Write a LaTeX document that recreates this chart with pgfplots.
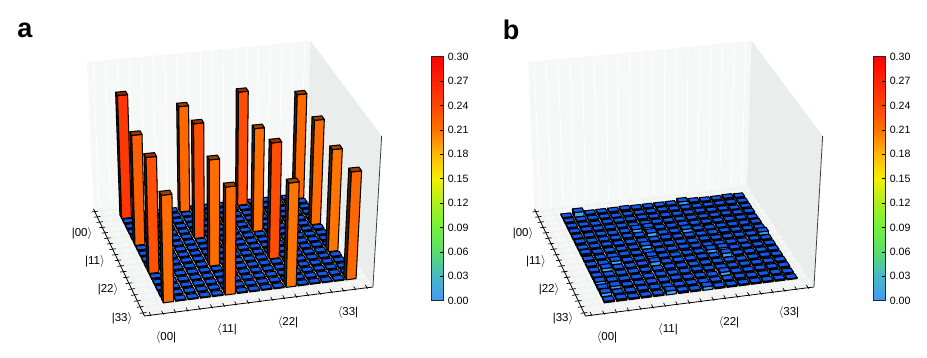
\documentclass[border=0pt]{standalone}
\usepackage{pgfplots}
\usepackage{pgfplotstable}
\usepackage{fontspec}
\setmainfont{Liberation Sans}
\pgfplotsset{compat=1.18}
\pgfplotsset{colormap={tomo}{rgb255(0)=(70,150,245) rgb255(1)=(70,185,200) rgb255(2)=(90,220,110) rgb255(3)=(115,240,60) rgb255(4)=(170,240,30) rgb255(5)=(245,240,0) rgb255(6)=(255,185,10) rgb255(7)=(255,115,0) rgb255(8)=(255,70,5) rgb255(9)=(255,35,5) rgb255(10)=(255,0,0)}}
\pgfplotstableread{
.252 .002 .002 .002 .002 .218 .002 .002 .002 .002 .235 .002 .002 .002 .002 .218
.002 .002 .002 .002 .002 .002 .002 .002 .002 .002 .002 .002 .002 .002 .002 .002
.002 .002 .002 .002 .002 .002 .002 .002 .002 .002 .002 .002 .002 .002 .002 .002
.002 .002 .002 .002 .002 .002 .002 .002 .002 .002 .002 .002 .002 .002 .002 .002
.002 .002 .002 .002 .002 .002 .002 .002 .002 .002 .002 .002 .002 .002 .002 .002
.224 .002 .002 .002 .002 .234 .002 .002 .002 .002 .212 .002 .002 .002 .002 .216
.002 .002 .002 .002 .002 .002 .002 .002 .002 .002 .002 .002 .002 .002 .002 .002
.002 .002 .002 .002 .002 .002 .002 .002 .002 .002 .002 .002 .002 .002 .002 .002
.002 .002 .002 .002 .002 .002 .002 .002 .002 .002 .002 .002 .002 .002 .002 .002
.002 .002 .002 .002 .002 .002 .002 .002 .002 .002 .002 .002 .002 .002 .002 .002
.233 .002 .002 .002 .002 .215 .002 .002 .002 .002 .235 .002 .002 .002 .002 .209
.002 .002 .002 .002 .002 .002 .002 .002 .002 .002 .002 .002 .002 .002 .002 .002
.002 .002 .002 .002 .002 .002 .002 .002 .002 .002 .002 .002 .002 .002 .002 .002
.002 .002 .002 .002 .002 .002 .002 .002 .002 .002 .002 .002 .002 .002 .002 .002
.002 .002 .002 .002 .002 .002 .002 .002 .002 .002 .002 .002 .002 .002 .002 .002
.214 .002 .002 .002 .002 .216 .002 .002 .002 .002 .210 .002 .002 .002 .002 .218
}\tA
\pgfplotstableread{
.002 .010 .003 .003 .003 .004 .003 .003 .003 .003 .007 .004 .003 .003 .004 .003
.003 .003 .003 .003 .002 .003 .003 .003 .004 .003 .003 .003 .003 .003 .003 .003
.003 .003 .002 .003 .003 .003 .004 .003 .003 .003 .003 .004 .003 .003 .002 .003
.003 .004 .003 .003 .003 .002 .003 .003 .003 .003 .003 .003 .003 .004 .003 .003
.003 .003 .003 .002 .003 .007 .008 .003 .003 .004 .003 .003 .003 .003 .003 .002
.004 .003 .003 .003 .004 .003 .008 .003 .003 .007 .003 .002 .003 .003 .003 .003
.003 .003 .004 .003 .003 .003 .003 .004 .003 .003 .003 .003 .004 .003 .003 .003
.005 .003 .003 .003 .003 .007 .003 .003 .003 .002 .004 .003 .003 .003 .003 .007
.003 .003 .003 .004 .003 .003 .003 .003 .004 .003 .003 .003 .003 .002 .004 .003
.003 .003 .007 .003 .003 .008 .003 .002 .003 .003 .007 .008 .003 .003 .003 .003
.003 .007 .003 .003 .004 .008 .003 .003 .003 .004 .003 .008 .003 .003 .003 .003
.004 .003 .003 .003 .003 .003 .004 .003 .003 .003 .003 .003 .002 .003 .004 .003
.006 .004 .003 .003 .002 .003 .003 .003 .004 .003 .003 .003 .003 .003 .003 .003
.004 .006 .003 .003 .003 .003 .004 .003 .003 .002 .007 .003 .003 .003 .003 .003
.007 .003 .003 .004 .003 .003 .003 .003 .003 .003 .003 .004 .003 .003 .003 .002
.003 .004 .003 .003 .003 .008 .004 .003 .007 .003 .003 .003 .003 .003 .003 .002
}\tB
% perspective of the plot box: floor fractions (x,y), height fraction z -> page position
\newcommand\pj[4]{%
  \pgfmathsetmacro\pW{0.02687*#1-0.0779*#2-0.05*#3+1}%
  \pgfmathsetmacro\pU{(220.72*#1+39.74*#2-10.85*#3+93.5)/\pW+\off}%
  \pgfmathsetmacro\pV{(-19.03*#1+82.38*#2-150.1*#3+209)/\pW}%
  \edef#4{(\pU,\pV)}}
\newcommand\face[5]{\edef\tmp{\noexpand\addplot[forget plot,mark=none,fill={#1},edge] coordinates {#2#3#4#5} --cycle;}\tmp}
\pgfplotsset{edge/.style={draw=black,line width=1.05pt,line join=round}}
\def\RR#1{\ifcase#1 70\or 70\or 90\or 115\or 170\or 245\or 255\or 255\or 255\or 255\or 255\fi}
\def\GG#1{\ifcase#1 150\or 185\or 220\or 240\or 240\or 240\or 185\or 115\or 70\or 35\or 0\fi}
\def\BB#1{\ifcase#1 245\or 200\or 110\or 60\or 30\or 0\or 10\or 0\or 5\or 5\or 0\fi}
\newcommand\onebar[3]{% row col value
  \pgfmathsetmacro\xa{(1.94+1.021*#2)/19}\pgfmathsetmacro\xb{(2.78+1.021*#2)/19}%
  \pgfmathsetmacro\ya{(1.62+#1)/19}\pgfmathsetmacro\yb{(2.32+#1)/19}%
  \pgfmathsetmacro\zz{#3/0.3}%
  \pgfmathtruncatemacro\sg{min(9,floor(#3/0.03))}%
  \pgfmathtruncatemacro\sh{\sg+1}%
  \pgfmathsetmacro\tw{#3/0.03-\sg}%
  \pgfmathsetmacro\cR{(\RR\sg*(1-\tw)+\RR\sh*\tw)/255}%
  \pgfmathsetmacro\cG{(\GG\sg*(1-\tw)+\GG\sh*\tw)/255}%
  \pgfmathsetmacro\cB{(\BB\sg*(1-\tw)+\BB\sh*\tw)/255}%
  \pj\xa\yb{0}\pAa \pj\xb\yb{0}\pBa \pj\xa\ya{0}\pCa
  \pj\xa\yb\zz\pAb \pj\xb\yb\zz\pBb \pj\xa\ya\zz\pCb \pj\xb\ya\zz\pDb
  \pgfmathsetmacro\lR{\cR*0.28}\pgfmathsetmacro\lG{\cG*0.28}\pgfmathsetmacro\lB{\cB*0.28}%
  \pgfmathparse{#3<0.1?1:0}%
  \ifdim\pgfmathresult pt>0.5pt
    \def\tR{0.075}\def\tG{0.35}\def\tB{0.93}%
  \else
    \pgfmathsetmacro\tR{\cR*0.6}\pgfmathsetmacro\tG{\cG*0.6}\pgfmathsetmacro\tB{\cB*0.6}%
  \fi
  \pgfmathparse{#3<0.006?1:0}%
  \ifdim\pgfmathresult pt>0.5pt
    \def\cR{0.03}\def\cG{0.06}\def\cB{0.12}%
  \fi
  \face{rgb,1:red,\lR;green,\lG;blue,\lB}\pCa\pAa\pAb\pCb
  \face{rgb,1:red,\cR;green,\cG;blue,\cB}\pAa\pBa\pBb\pAb
  \face{rgb,1:red,\tR;green,\tG;blue,\tB}\pCb\pDb\pBb\pAb
}
\definecolor{wallb}{RGB}{246,248,248}
\definecolor{wallr}{RGB}{233,237,236}
\definecolor{floorc}{RGB}{245,246,246}
\definecolor{gridc}{RGB}{253,254,254}
\definecolor{gridf}{RGB}{234,237,237}
\newcommand\panelbox{%
  % walls and floor
  \pj{0}{0}{0}\qa \pj{1}{0}{0}\qb \pj{1}{1}{0}\qc \pj{0}{1}{0}\qd
  \pj{0}{0}{1}\qe \pj{1}{0}{1}\qf \pj{1}{1}{1}\qg
  \edef\tmp{\noexpand\addplot[forget plot,mark=none,fill=wallb,draw=none] coordinates {\qa\qb\qf\qe} --cycle;}\tmp
  \edef\tmp{\noexpand\addplot[forget plot,mark=none,fill=wallr,draw=none] coordinates {\qb\qc\qg\qf} --cycle;}\tmp
  \edef\tmp{\noexpand\addplot[forget plot,mark=none,fill=floorc,draw=none] coordinates {\qa\qb\qc\qd} --cycle;}\tmp
  \foreach \k in {-1,...,17}{%
    \pgfmathsetmacro\fk{(\k+1.5)/19}%
    \pj\fk{0}{0}\pa \pj\fk{0}{1}\pb \pj\fk{1}{0}\pc
    \edef\tmp{\noexpand\addplot[forget plot,mark=none,draw=gridc,line width=1pt] coordinates {\pa\pb};}\tmp
    \edef\tmp{\noexpand\addplot[forget plot,mark=none,draw=gridf,line width=.5pt] coordinates {\pa\pc};}\tmp
    \pj{0}\fk{0}\pd \pj{1}\fk{0}\pe
    \edef\tmp{\noexpand\addplot[forget plot,mark=none,draw=gridf,line width=.5pt] coordinates {\pd\pe};}\tmp
  }%
  % frame edges
  \edef\tmp{\noexpand\addplot[forget plot,mark=none,draw=black,line width=.8pt] coordinates {\qa\qd\qc};}\tmp
  \edef\tmp{\noexpand\addplot[forget plot,mark=none,draw=black!75,line width=.8pt] coordinates {\qc\qg};}\tmp
  % ticks
  \foreach \k in {-1,...,17}{%
    \pgfmathsetmacro\fk{(\k+1.5)/19}%
    \pj\fk{1.008}{0}\pa \pj\fk{0.975}{0}\pb
    \edef\tmp{\noexpand\addplot[forget plot,mark=none,draw=black,line width=.7pt] coordinates {\pa\pb};}\tmp
    \pj{-0.014}\fk{0}\pa \pj{0.014}\fk{0}\pb
    \edef\tmp{\noexpand\addplot[forget plot,mark=none,draw=black,line width=.7pt] coordinates {\pa\pb};}\tmp
  }%
}
\newcommand\bars[1]{%
  \foreach \rr in {0,...,15}{%
    \foreach \cc in {15,14,...,0}{%
      \pgfplotstablegetelem{\rr}{[index]\cc}\of#1%
      \let\vv\pgfplotsretval
      \onebar\rr\cc\vv
    }%
  }%
}
\newcommand\panellabels{%
  \foreach \lab/\px/\py in {|00/82/234,|11/95/262,|22/108/290,|33/122/319}{%
    \pgfmathsetmacro\qx{\px+\off}%
    \edef\tmp{\noexpand\node[font=\noexpand\fontsize{11.5}{12}\noexpand\selectfont,inner sep=0pt] at (axis cs:\qx,\py) {\lab$\noexpand\rangle$};}\tmp
  }%
  \foreach \lab/\px/\py in {00/166/338,11/227/329,22/288/322,33/348/313}{%
    \pgfmathsetmacro\qx{\px+\off}%
    \edef\tmp{\noexpand\node[font=\noexpand\fontsize{11.5}{12}\noexpand\selectfont,inner sep=0pt] at (axis cs:\qx,\py) {$\noexpand\langle$\lab|};}\tmp
  }%
}
\pgfplotsset{panel/.style={
  scale only axis,width=464pt,height=358pt,anchor=south west,
  ymin=0,ymax=358,y dir=reverse,hide axis,clip=true},
  cbar/.style={
    scale only axis,anchor=south west,width=12pt,height=244pt,
    xmin=0,xmax=1,ymin=0,ymax=0.3,xtick=\empty,
    ytick={0,0.03,0.06,0.09,0.12,0.15,0.18,0.21,0.24,0.27,0.30},
    yticklabel pos=right,ytick pos=right,tick align=inside,
    major tick length=3pt,
    tick style={black,line width=.6pt},
    axis line style={line width=.9pt,draw=black!85},
    scaled y ticks=false,axis on top,
    colormap name=tomo,point meta min=0,point meta max=0.3,
    yticklabel style={font=\fontsize{10.6}{11}\selectfont,xshift=1pt,
      /pgf/number format/fixed,/pgf/number format/fixed zerofill,
      /pgf/number format/precision=2,/pgf/number format/assume math mode=true},
  }}
\begin{document}
\begin{tikzpicture}[x=1pt,y=1pt]
\useasboundingbox (0pt,0pt) rectangle (927pt,358pt);
\begin{axis}[panel,at={(0pt,0pt)},xmin=0,xmax=464]
  \def\off{0}
  \panelbox
  \bars\tA
  \panellabels
  \node[font=\fontsize{27}{28}\selectfont\bfseries,inner sep=0pt] at (axis cs:25,30) {a};
\end{axis}
\begin{axis}[panel,at={(463pt,0pt)},xmin=463,xmax=927]
  \def\off{441}
  \panelbox
  \bars\tB
  \panellabels
  \node[font=\fontsize{27}{28}\selectfont\bfseries,inner sep=0pt] at (axis cs:511,30) {b};
\end{axis}
\begin{axis}[cbar,at={(431.3pt,57.3pt)}]
  \addplot[patch,patch type=rectangle,shader=interp,point meta=y] coordinates {(0,0)(1,0)(1,0.3)(0,0.3)};
\end{axis}
\begin{axis}[cbar,at={(873.3pt,57.3pt)}]
  \addplot[patch,patch type=rectangle,shader=interp,point meta=y] coordinates {(0,0)(1,0)(1,0.3)(0,0.3)};
\end{axis}
\end{tikzpicture}
\end{document}
